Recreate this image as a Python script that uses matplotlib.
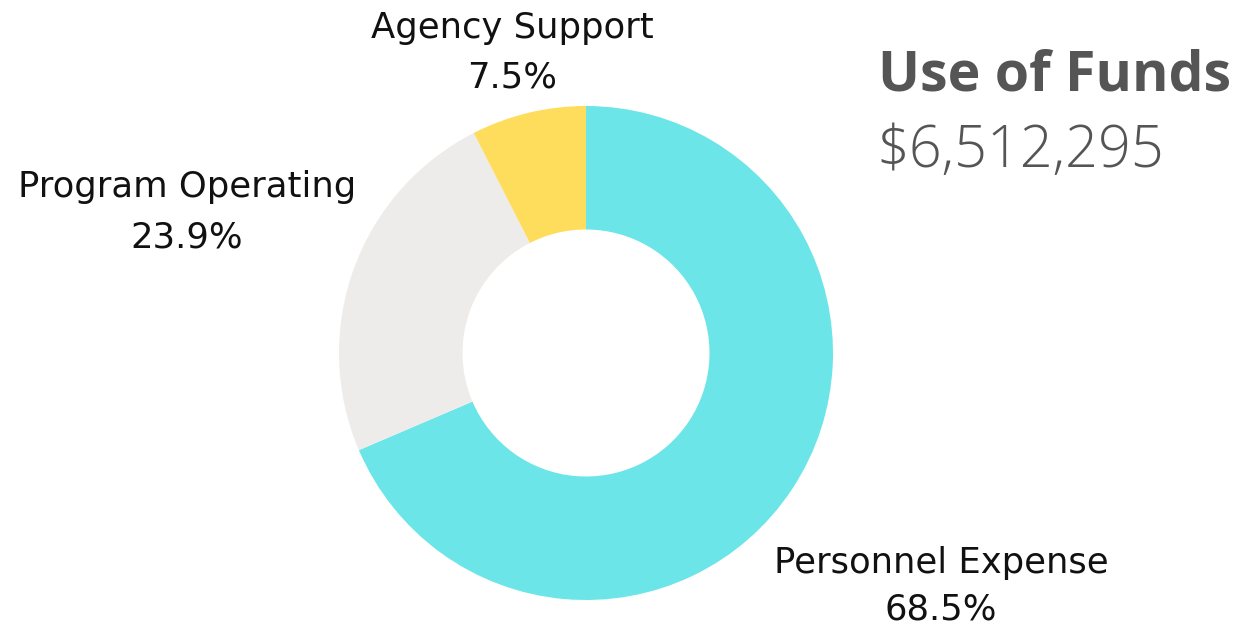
import matplotlib
matplotlib.use("Agg")
import matplotlib.pyplot as plt

categories = ["Personnel Expense", "Program Operating", "Agency Support"]
shares = [68.5, 23.9, 7.5]
colors = ["#6BE5E8", "#EDECEA", "#FFDD5C"]
title = "Use of Funds"
total = "$6,512,295"

W, H = 1254, 628
fig = plt.figure(figsize=(W / 100, H / 100), dpi=100)
fig.patch.set_facecolor("white")

cx, cy, r = 586, 353, 247
ax = fig.add_axes([(cx - r) / W, (H - cy - r) / H, 2 * r / W, 2 * r / H])
ax.pie(shares, colors=colors, startangle=90, counterclock=False,
       wedgeprops=dict(width=0.5, edgecolor="none"), radius=1.0)
ax.set_xlim(-1, 1)
ax.set_ylim(-1, 1)
ax.set_aspect("equal")
ax.axis("off")

label_font = "DejaVu Sans"
label_pos = [(941, 563, 609), (187, 187, 237), (512, 28, 77)]
for cat, val, (x, y1, y2) in zip(categories, shares, label_pos):
    fig.text(x / W, 1 - y1 / H, cat, ha="center", va="center",
             fontsize=25.5, family=label_font, color="#111111")
    fig.text(x / W, 1 - y2 / H, f"{val}%", ha="center", va="center",
             fontsize=25.5, family=label_font, color="#111111")

fig.text(878 / W, 1 - 76 / H, title, ha="left", va="center",
         fontsize=40, family="Open Sans", fontweight="bold", color="#555555")
fig.text(876 / W, 1 - 152 / H, total, ha="left", va="center",
         fontsize=41.5, family="Open Sans", fontweight="light", color="#555555")

fig.savefig("out.png", dpi=100, facecolor="white")
